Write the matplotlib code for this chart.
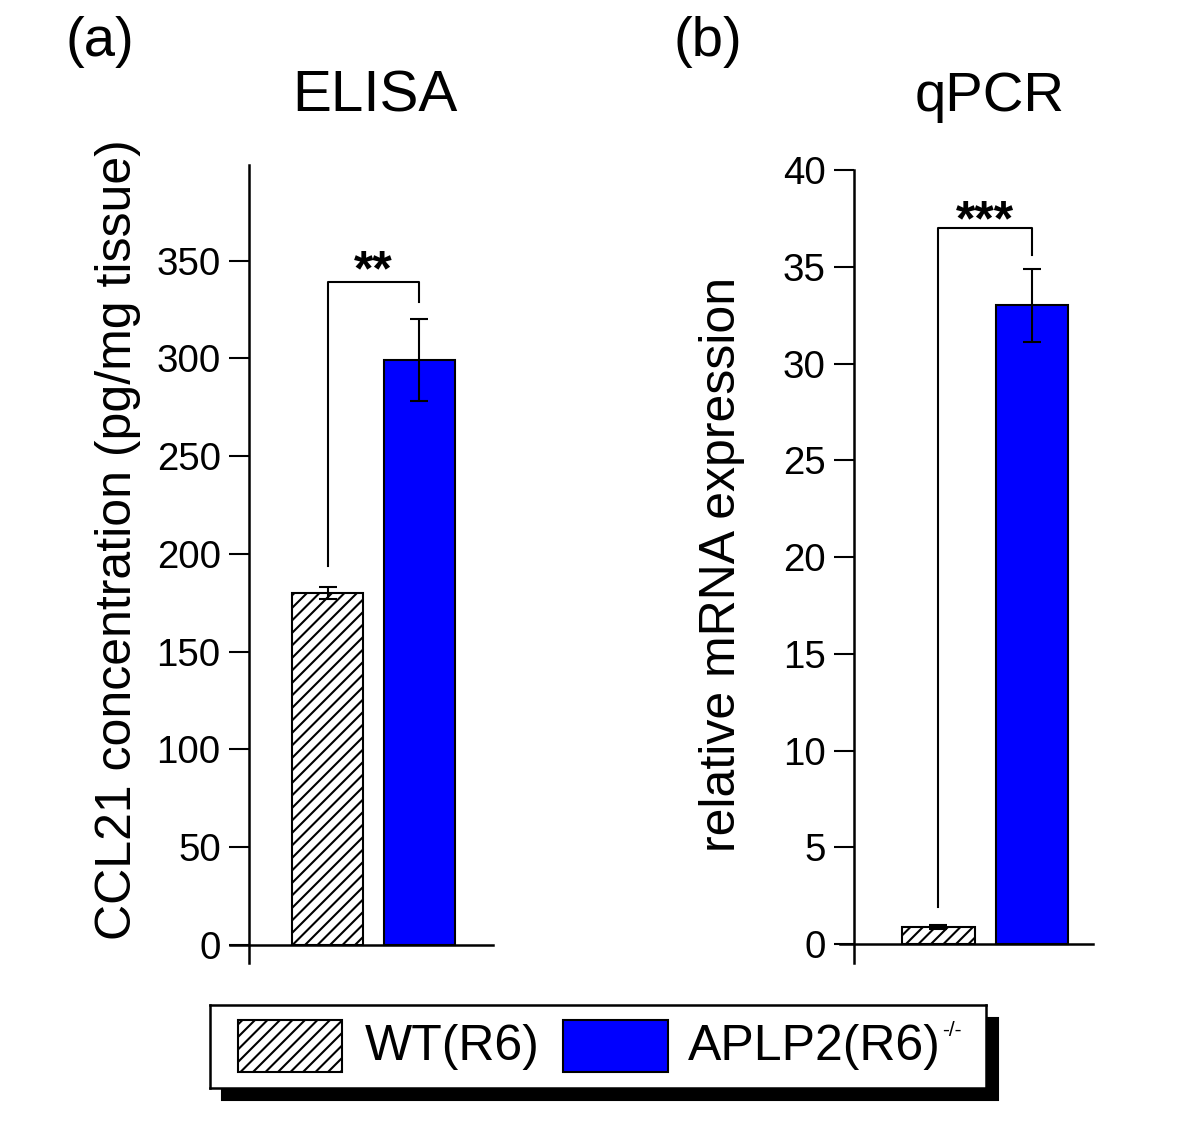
import matplotlib
matplotlib.use("Agg")
from matplotlib import pyplot as plt
from matplotlib.patches import Rectangle
import numpy as np

plt.rcParams['font.family'] = ['Liberation Sans', 'DejaVu Sans']
plt.rcParams['hatch.linewidth'] = 1.0

# data
groups = ['WT(R6)', 'APLP2(R6)']
group_sup = ['', '-/-']
elisa_mean = [180, 299]
elisa_err = [3, 21]
qpcr_mean = [0.9, 33.0]
qpcr_err = [0.1, 1.9]
elisa_ticks = [0, 50, 100, 150, 200, 250, 300, 350]
qpcr_ticks = [0, 5, 10, 15, 20, 25, 30, 35, 40]
elisa_bracket = [194, 339, 329]   # left foot, top, right foot
qpcr_bracket = [1.9, 37.0, 35.6]

W, H = 1200, 1131
fig = plt.figure(figsize=(8, 7.54), dpi=150)


def px_axes(left, top, right, bottom, **kw):
    return fig.add_axes([left / W, 1 - bottom / H, (right - left) / W, (bottom - top) / H], **kw)


def style_axes(ax, spine_x, ticks):
    for s in ['top', 'right']:
        ax.spines[s].set_visible(False)
    ax.spines['left'].set_position(('data', spine_x))
    ax.spines['bottom'].set_position(('data', 0))
    ax.spines['left'].set_linewidth(1.2)
    ax.spines['bottom'].set_linewidth(1.2)
    ax.set_xticks([])
    ax.set_yticks(ticks)
    ax.tick_params(axis='y', direction='out', length=9.6, width=1.0, pad=4, labelsize=18.5)
    ax.patch.set_alpha(0)


def draw_panel(ax, means, errs, width, bracket, stars, star_y):
    x = np.arange(len(means))
    ax.bar(x[0], means[0], width, color='white', edgecolor='black', hatch='////', linewidth=1.0, zorder=2)
    ax.bar(x[1], means[1], width, color='#0000ff', edgecolor='black', linewidth=1.0, zorder=2)
    ax.errorbar(x, means, yerr=errs, fmt='none', ecolor='black', elinewidth=1.0,
                capsize=4.3, capthick=1.0, zorder=3)
    ax.plot([x[0], x[0], x[1], x[1]], [bracket[0], bracket[1], bracket[1], bracket[2]],
            color='black', linewidth=1.0, zorder=3)
    ax.text((x[0] + x[1]) / 2, star_y, stars, ha='center', va='center',
            fontsize=24, fontweight='bold')


# (a) ELISA
ax1 = px_axes(230, 165, 493, 963)
ax1.set_xlim(-1.060, 1.799)
ax1.set_ylim(-9.2, 398.9)
style_axes(ax1, -0.853, elisa_ticks)
draw_panel(ax1, elisa_mean, elisa_err, 0.772, elisa_bracket, '**', 344)
ax1.set_ylabel('CCL21 concentration (pg/mg tissue)', fontsize=24)
ax1.yaxis.set_label_coords(-0.338, 0.530)

# (b) qPCR
ax2 = px_axes(840, 170, 1093, 963)
ax2.set_xlim(-1.053, 1.652)
ax2.set_ylim(-0.98, 40)
style_axes(ax2, -0.904, qpcr_ticks)
draw_panel(ax2, qpcr_mean, qpcr_err, 0.78, qpcr_bracket, '***', 37.3)
ax2.set_ylabel('relative mRNA expression', fontsize=24)
ax2.yaxis.set_label_coords(-0.375, 0.502)

# titles and panel letters
fig.text(375 / W, 1 - 97 / H, 'ELISA', fontsize=28, ha='center', va='center')
fig.text(990 / W, 1 - 97 / H, 'qPCR', fontsize=27, ha='center', va='center')
fig.text(100 / W, 1 - 42 / H, '(a)', fontsize=27, ha='center', va='center')
fig.text(708 / W, 1 - 42 / H, '(b)', fontsize=27, ha='center', va='center')

# legend box with solid shadow
fig.add_artist(Rectangle((222 / W, 1 - 1100 / H), 776 / W, 82 / H,
                         transform=fig.transFigure, color='black', zorder=0))
lax = px_axes(210, 1005, 986, 1088, zorder=1)
lax.set_xlim(210, 986)
lax.set_ylim(1088, 1005)
lax.set_xticks([])
lax.set_yticks([])
lax.set_facecolor('white')
for s in lax.spines.values():
    s.set_linewidth(1.2)
lax.add_patch(Rectangle((238, 1020), 104, 52, facecolor='white', edgecolor='black',
                        hatch='////', linewidth=1.0))
lax.add_patch(Rectangle((563, 1020), 105, 52, facecolor='#0000ff', edgecolor='black',
                        linewidth=1.0))
lax.text(365, 1047, groups[0], fontsize=24, ha='left', va='center')
lax.text(688, 1047, groups[1], fontsize=24, ha='left', va='center')
lax.text(942, 1031, group_sup[1], fontsize=10, ha='left', va='center')

fig.savefig('out.png', dpi=150)
